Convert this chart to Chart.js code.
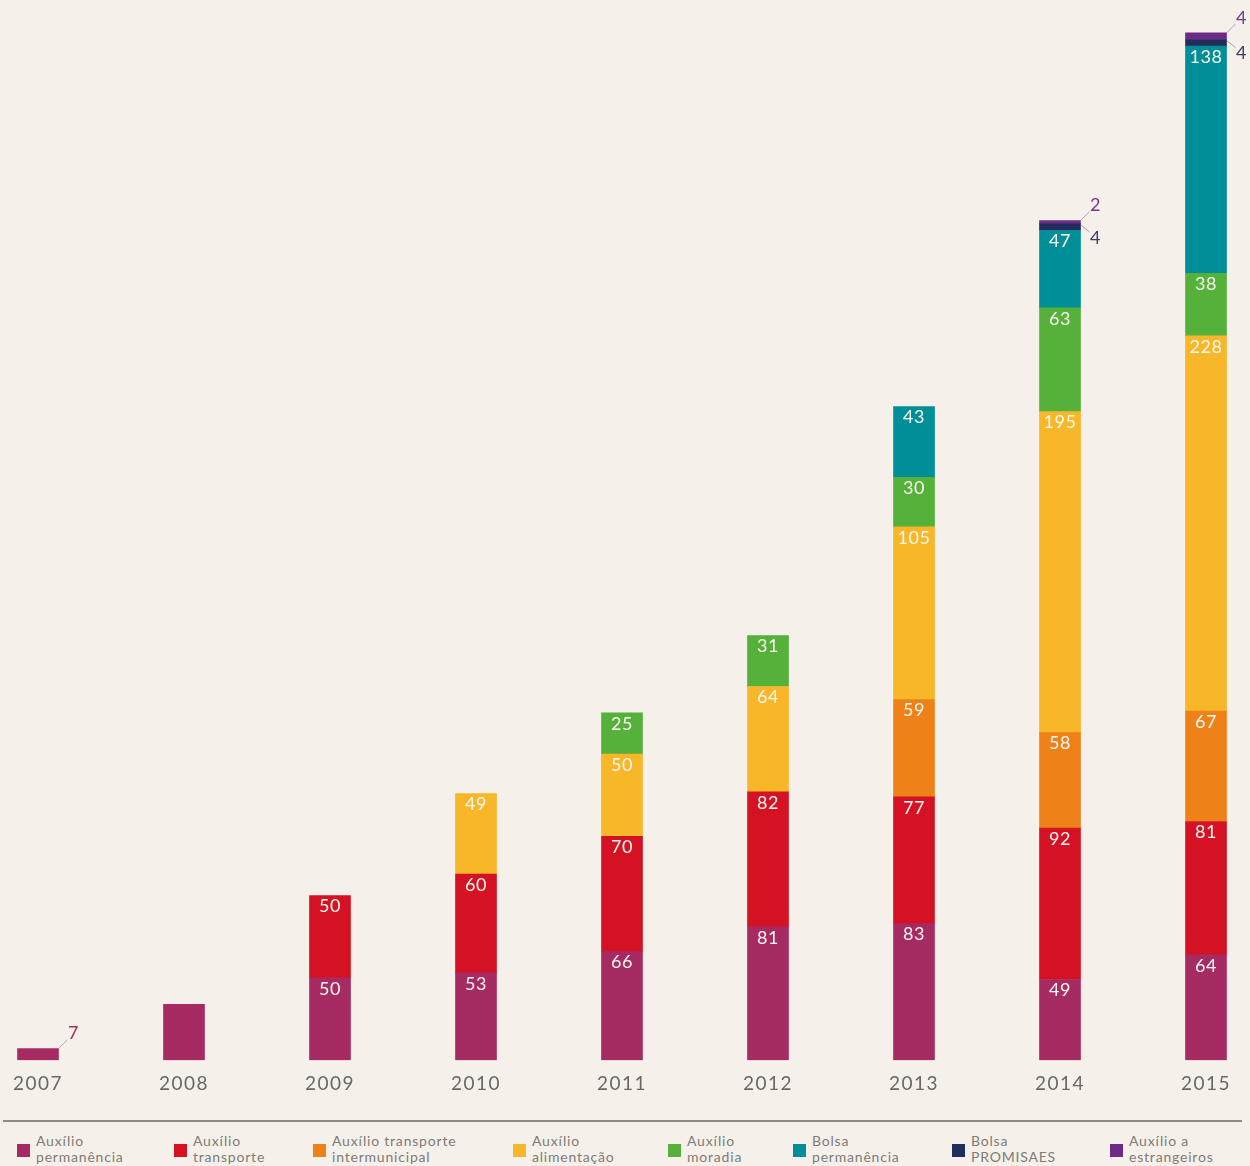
<!DOCTYPE html>
<html><head><meta charset="utf-8">
<script src="https://cdn.jsdelivr.net/npm/chart.js@4"></script>
<style>
html,body{margin:0;padding:0;background:#f5f1ea;width:1250px;height:1166px;overflow:hidden;position:relative;font-family:Lato,'Open Sans',sans-serif;}
#c{position:absolute;left:-35px;top:0;}
#rule{position:absolute;left:3px;top:1120px;width:1239px;height:2px;background:#8d8a86;}
.lt{position:absolute;top:1133px;font-size:14px;line-height:16px;color:#7f7b77;letter-spacing:0.8px;white-space:nowrap;}
.sw{position:absolute;width:13px;height:13px;top:1144px;}
</style></head>
<body>
<canvas id="c" width="1314" height="1107"></canvas>
<div id="rule"></div>
<div id="legend"></div>
<script>
const years = ['2007','2008','2009','2010','2011','2012','2013','2014','2015'];
const auxilioPermanencia = [7, 34, 50, 53, 66, 81, 83, 49, 64];
const auxilioTransporte = [null, null, 50, 60, 70, 82, 77, 92, 81];
const auxilioIntermunicipal = [null, null, null, null, null, null, 59, 58, 67];
const auxilioAlimentacao = [null, null, null, 49, 50, 64, 105, 195, 228];
const auxilioMoradia = [null, null, null, null, 25, 31, 30, 63, 38];
const bolsaPermanencia = [null, null, null, null, null, null, 43, 47, 138];
const bolsaPromisaes = [null, null, null, null, null, null, null, 4, 4];
const auxilioEstrangeiros = [null, null, null, null, null, null, null, 2, 4];
const unlabeledYears = ['2008'];

const seriesNames = [
  ['Auxílio','permanência'],
  ['Auxílio','transporte'],
  ['Auxílio transporte','intermunicipal'],
  ['Auxílio','alimentação'],
  ['Auxílio','moradia'],
  ['Bolsa','permanência'],
  ['Bolsa','PROMISAES'],
  ['Auxílio a','estrangeiros']
];
const seriesData = [auxilioPermanencia, auxilioTransporte, auxilioIntermunicipal, auxilioAlimentacao, auxilioMoradia, bolsaPermanencia, bolsaPromisaes, auxilioEstrangeiros];
const seriesColors = ['#a62b62','#d51224','#ee8219','#f8b629','#55b13a','#008f98','#232d5c','#6d2a86'];
const outsideTextColors = ['#a62b62','#d51224','#ee8219','#f8b629','#55b13a','#008f98','#3b3d6e','#7b3593'];
const legendX = [17, 174, 313, 513, 668, 793, 952, 1110];

const FONT = 'Lato, "Open Sans", sans-serif';

const spacingPlugin = {
  id: 'spacing',
  beforeDraw(chart) { chart.ctx.letterSpacing = '1.5px'; }
};

const labelPlugin = {
  id: 'segLabels',
  afterDatasetsDraw(chart) {
    const ctx = chart.ctx;
    ctx.save();
    ctx.letterSpacing = '0.5px';
    ctx.font = '400 18px ' + FONT;
    ctx.textAlign = 'center';
    ctx.textBaseline = 'middle';
    const n = chart.data.datasets.length;
    chart.data.datasets.forEach((ds, di) => {
      const meta = chart.getDatasetMeta(di);
      meta.data.forEach((bar, i) => {
        const v = ds.data[i];
        if (v == null) return;
        if (unlabeledYears.includes(years[i])) return;
        const h = bar.base - bar.y;
        if (h >= 20) {
          ctx.fillStyle = '#fbf8f2';
          ctx.fillText(String(v), bar.x, bar.y + 11);
        } else {
          let isTop = true;
          for (let k = di + 1; k < n; k++) if (chart.data.datasets[k].data[i] != null) isTop = false;
          const right = bar.x + bar.width / 2;
          const col = outsideTextColors[di];
          ctx.strokeStyle = col;
          ctx.globalAlpha = 0.45;
          ctx.lineWidth = 1;
          ctx.beginPath();
          if (isTop) {
            ctx.moveTo(right, bar.y);
            ctx.lineTo(right + 9, bar.y - 9);
          } else {
            ctx.moveTo(right, bar.y + 1);
            ctx.lineTo(right + 9, bar.y + 8);
          }
          ctx.stroke();
          ctx.globalAlpha = 1;
          ctx.fillStyle = col;
          ctx.fillText(String(v), right + 15, isTop ? bar.y - 15 : bar.y + 14);
        }
      });
    });
    ctx.restore();
  }
};

new Chart(document.getElementById('c'), {
  type: 'bar',
  data: {
    labels: years,
    datasets: seriesData.map((d, k) => ({
      label: seriesNames[k].join(' '),
      data: d,
      backgroundColor: seriesColors[k],
      borderWidth: 0,
      barThickness: 41
    }))
  },
  options: {
    responsive: false,
    animation: false,
    devicePixelRatio: 1,
    layout: { padding: 0 },
    plugins: { legend: { display: false }, tooltip: { enabled: false } },
    scales: {
      x: {
        stacked: true,
        grid: { display: false, drawTicks: false },
        border: { display: false },
        ticks: { color: '#6b6864', font: { family: FONT, size: 19, weight: '400' }, padding: 12 }
      },
      y: {
        stacked: true,
        display: false,
        min: 0,
        max: 644
      }
    }
  },
  plugins: [spacingPlugin, labelPlugin]
});

const leg = document.getElementById('legend');
seriesNames.forEach((nm, k) => {
  const sw = document.createElement('div');
  sw.className = 'sw';
  sw.style.left = legendX[k] + 'px';
  sw.style.background = seriesColors[k];
  leg.appendChild(sw);
  const t = document.createElement('div');
  t.className = 'lt';
  t.style.left = (legendX[k] + 19) + 'px';
  t.innerHTML = nm[0] + '<br>' + nm[1];
  leg.appendChild(t);
});
</script>
</body></html>
